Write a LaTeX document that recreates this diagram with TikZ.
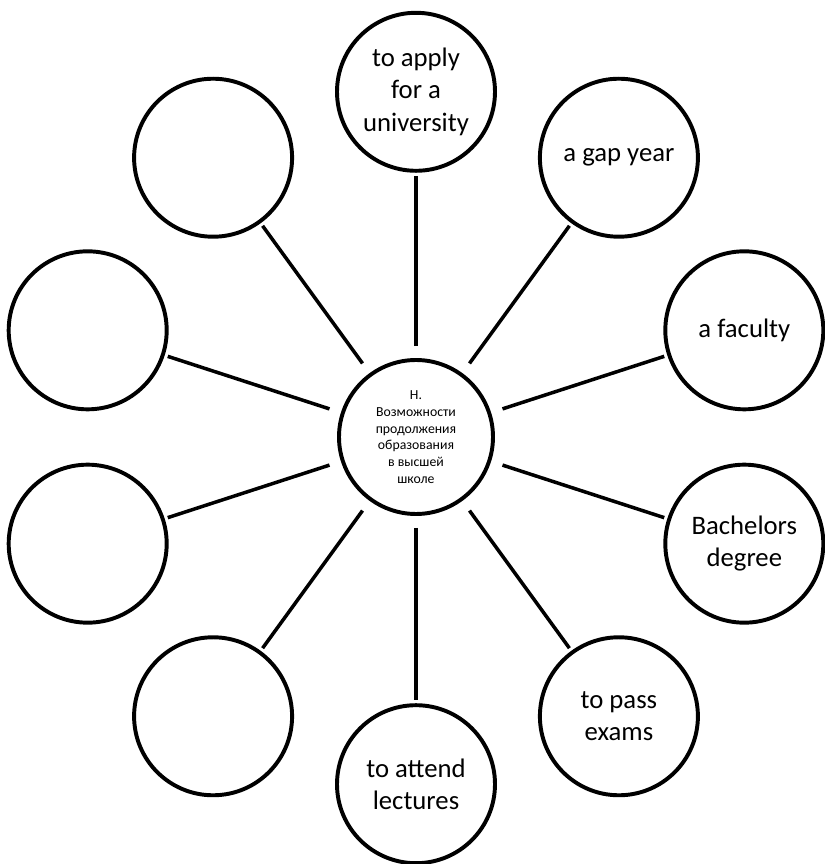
\documentclass[tikz,border=0pt]{standalone}
\usepackage{fontspec}
\setmainfont{Carlito}
\usepackage{tikz}

\begin{document}
\begin{tikzpicture}[
  x=1cm,y=1cm,
  every node/.style={text=black},
  bubble/.style={draw=black,circle,line width=2.8pt,inner sep=0pt,align=center},
  topic/.style={bubble,minimum size=3.95cm,font=\fontsize{19}{23}\selectfont},
  hub/.style={bubble,minimum size=3.85cm,font=\fontsize{9.8}{11.9}\selectfont},
  spoke/.style={draw=black,line width=2.5pt,shorten <=0.3cm,shorten >=0.08cm}
]
\useasboundingbox (-10.4,-10.675) rectangle (10.2,10.925);
% Central topic of the mind map.
\node[hub] (centre) at (0,0)
  {Н.\\Возможности\\продолжения\\образования\\в высшей\\школе};
% Ten satellite circles, 36 degrees apart; the left-hand ones are left blank.
\node[topic] (apply) at (90:8.63) {to apply\\for a\\university};
\node[topic] (gap) at (54:8.63) {a gap year};
\node[topic] (faculty) at (18:8.63) {a faculty};
\node[topic] (bachelor) at (-18:8.63) {Bachelors\\degree};
\node[topic] (exams) at (-54:8.63) {to pass\\exams};
\node[topic] (lectures) at (-90:8.68) {to attend\\lectures};
\node[topic] (blankA) at (-126:8.63) {};
\node[topic] (blankB) at (-162:8.63) {};
\node[topic] (blankC) at (162:8.63) {};
\node[topic] (blankD) at (126:8.63) {};
% Spokes from the centre to every satellite.
\draw[spoke] (centre) -- (apply);
\draw[spoke] (centre) -- (gap);
\draw[spoke] (centre) -- (faculty);
\draw[spoke] (centre) -- (bachelor);
\draw[spoke] (centre) -- (exams);
\draw[spoke] (centre) -- (lectures);
\draw[spoke] (centre) -- (blankA);
\draw[spoke] (centre) -- (blankB);
\draw[spoke] (centre) -- (blankC);
\draw[spoke] (centre) -- (blankD);
\end{tikzpicture}
\end{document}
